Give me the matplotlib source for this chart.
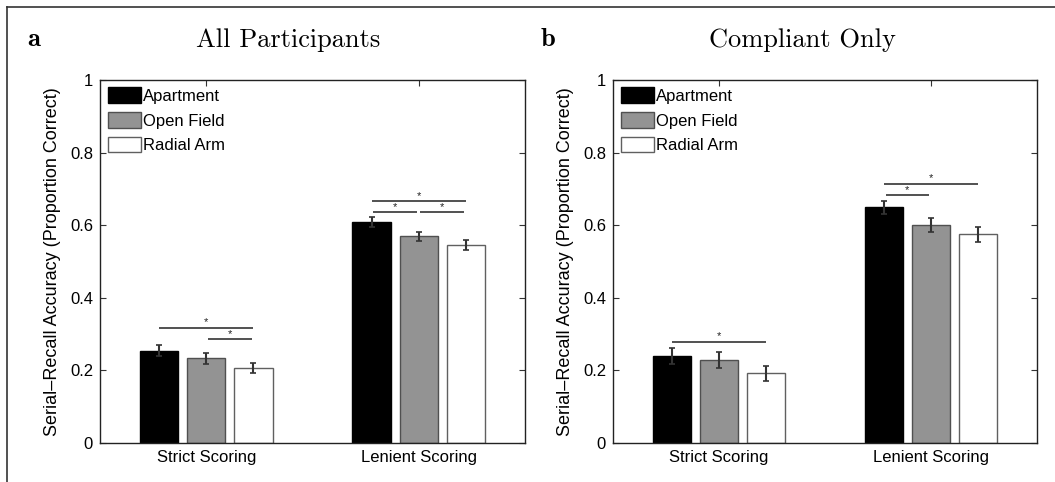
import numpy as np
import matplotlib.pyplot as plt
from matplotlib.lines import Line2D

# Conditions and scoring methods
conditions = ['Apartment', 'Open Field', 'Radial Arm']
scoring = ['Strict Scoring', 'Lenient Scoring']

# Panel a: all participants (rows = scoring, cols = condition)
all_means = [[0.254, 0.233, 0.207], [0.609, 0.569, 0.545]]
all_err = [[0.015, 0.015, 0.013], [0.014, 0.012, 0.013]]
# significance bars: (group, cond_i, cond_j, height)
all_sig = [(0, 0, 2, 0.317), (0, 1, 2, 0.286),
           (1, 0, 2, 0.666), (1, 0, 1, 0.636), (1, 1, 2, 0.636)]

# Panel b: compliant only
comp_means = [[0.240, 0.229, 0.192], [0.649, 0.600, 0.575]]
comp_err = [[0.023, 0.023, 0.021], [0.019, 0.019, 0.020]]
comp_sig = [(0, 0, 2, 0.279), (1, 0, 2, 0.714), (1, 0, 1, 0.683)]

titles = ['All Participants', 'Compliant Only']
letters = ['a', 'b']
ylabel = 'Serial\u2013Recall Accuracy (Proportion Correct)'

fills = ['black', '#939393', 'white']
edges = ['black', '#505050', '#606060']
offset, width = 0.222, 0.18

plt.rcParams['font.family'] = ['Liberation Sans', 'DejaVu Sans']
fig = plt.figure(figsize=(10.55, 4.82), dpi=100)

def draw(ax, means, errs, sigs):
    x = np.arange(1, len(scoring) + 1)
    means = np.array(means)
    errs = np.array(errs)
    for k, name in enumerate(conditions):
        xs = x + (k - 1) * offset
        ax.bar(xs, means[:, k], width, color=fills[k], edgecolor=edges[k],
               linewidth=1.0, label=name, zorder=2)
        ax.errorbar(xs, means[:, k], yerr=errs[:, k], fmt='none',
                    ecolor='#333333', elinewidth=1.5, capsize=2,
                    capthick=1.2, zorder=3)
    for g, i, j, h in sigs:
        x0 = x[g] + (i - 1) * offset
        x1 = x[g] + (j - 1) * offset
        gap = 0.008 if j - i == 1 else 0
        ax.plot([x0 + gap, x1 - gap], [h, h], color='#333333', lw=1.2,
                zorder=3, solid_capstyle='butt')
        ax.text((x0 + x1) / 2, h + 0.001, '*', ha='center', va='bottom',
                fontsize=8, color='#222222')
    ax.set_xlim(0.5, 2.5)
    ax.set_ylim(0, 1)
    ax.set_xticks(x)
    ax.set_xticklabels(scoring)
    ax.set_yticks([0, 0.2, 0.4, 0.6, 0.8, 1])
    ax.set_yticklabels(['0', '0.2', '0.4', '0.6', '0.8', '1'])
    ax.tick_params(direction='in', top=True, right=True, labelsize=12,
                   length=4, width=0.8, color='#333333', pad=5)
    for s in ax.spines.values():
        s.set_linewidth(1.0)
        s.set_color('#222222')
    ax.set_ylabel(ylabel, fontsize=13)
    ax.yaxis.set_label_coords(-0.092, 0.5)
    ax.legend(loc='upper left', frameon=False, fontsize=12,
              handlelength=2.0, handleheight=1.05, handletextpad=0.15,
              labelspacing=0.5, borderaxespad=0.35, borderpad=0.1)

ax_a = fig.add_axes([100 / 1055, 1 - 443 / 482, 425 / 1055, 363 / 482])
ax_b = fig.add_axes([613 / 1055, 1 - 443 / 482, 424 / 1055, 363 / 482])
draw(ax_a, all_means, all_err, all_sig)
draw(ax_b, comp_means, comp_err, comp_sig)

# titles and panel letters
fig.text(288 / 1055, 1 - 40 / 482, titles[0], ha='center', va='center',
         fontsize=19, family='cmr10')
fig.text(802 / 1055, 1 - 40 / 482, titles[1], ha='center', va='center',
         fontsize=19, family='cmr10')
fig.text(27 / 1055, 1 - 40 / 482, letters[0], ha='left', va='center',
         fontsize=19, family='cmb10')
fig.text(541 / 1055, 1 - 40 / 482, letters[1], ha='left', va='center',
         fontsize=19, family='cmb10')

# outer frame (top and left edges)
fig.add_artist(Line2D([7 / 1055, 1], [1 - 7 / 482, 1 - 7 / 482],
                      transform=fig.transFigure, color='#333333', lw=1.2))
fig.add_artist(Line2D([7 / 1055, 7 / 1055], [0, 1 - 7 / 482],
                      transform=fig.transFigure, color='#333333', lw=1.2))

fig.savefig('out.png', dpi=100)
